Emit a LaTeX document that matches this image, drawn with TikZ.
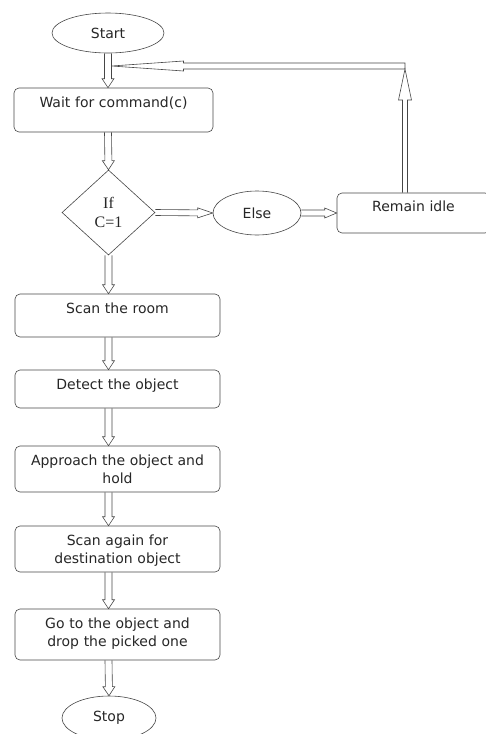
\documentclass[tikz,border=0pt]{standalone}
\usepackage{fontspec}
\setmainfont{DejaVu Sans}
\newfontfamily\condfont{Liberation Serif}
\usetikzlibrary{shapes.geometric,calc}

\definecolor{linegray}{RGB}{70,70,70}

\tikzset{
  every node/.style={font=\fontsize{14}{17.5}\selectfont, text=black!85},
  box/.style={draw=linegray, line width=0.6pt, rounded corners=5pt,
    minimum width=205pt, inner sep=0pt},
  term/.style={draw=linegray, line width=0.6pt, ellipse, inner sep=0pt},
  txt/.style={anchor=base, yshift=-20pt, text width=190pt, align=center, inner sep=0pt},
  % hollow block arrow between two points
  blk head/.store in=\blkhead, blk head=9pt,
  blk half/.store in=\blkhalf, blk half=3.5pt,
  blk wide/.store in=\blkwide, blk wide=6pt,
  blk/.style={draw=linegray, line width=0.6pt, line join=miter, to path={
    let \p1=(\tikztostart), \p2=(\tikztotarget),
        \n1={atan2(\y2-\y1,\x2-\x1)} in
    ($(\p1)+(\n1+90:\blkhalf)$)
    -- ($(\p2)+(\n1+180:\blkhead)+(\n1+90:\blkhalf)$)
    -- ($(\p2)+(\n1+180:\blkhead)+(\n1+90:\blkwide)$)
    -- (\p2)
    -- ($(\p2)+(\n1+180:\blkhead)+(\n1-90:\blkwide)$)
    -- ($(\p2)+(\n1+180:\blkhead)+(\n1-90:\blkhalf)$)
    -- ($(\p1)+(\n1-90:\blkhalf)$)
  }},
}

\begin{document}
\begin{tikzpicture}[x=1pt,y=-1pt]
    \useasboundingbox (0,0) rectangle (485,734);

    % Main column
    \node[term, minimum width=112pt, minimum height=40pt] (start) at (108,33) {Start};
    \node[box, minimum width=199pt, minimum height=44pt,
      label={[txt]north:Wait for command(c)}] (wait) at (113.5,110) {};
    \node[draw=linegray, line width=0.6pt, diamond, inner sep=0pt,
      minimum width=93pt, minimum height=85pt,
      font=\condfont\fontsize{16}{19}\selectfont, align=center] (cond) at (108.5,212.5) {If\\C=1};
    \node[box, minimum height=43pt,
      label={[txt]north:Scan the room}] (scan) at (117.5,315.5) {};
    \node[box, minimum height=38pt,
      label={[txt]north:Detect the object}] (detect) at (117.5,389) {};
    \node[box, minimum height=46pt,
      label={[txt]north:Approach the object and\\hold}] (approach) at (117.5,469) {};
    \node[box, minimum height=46pt,
      label={[txt]north:Scan again for\\destination object}] (again) at (117.5,549) {};
    \node[box, minimum height=51pt,
      label={[txt]north:Go to the object and\\drop the picked one}] (goto) at (117.5,634.5) {};
    \node[term, minimum width=94pt, minimum height=44pt] (stop) at (109,718) {Stop};

    % Else branch
    \node[term, minimum width=88pt, minimum height=44pt] (els) at (257,213) {Else};
    \node[box, minimum width=153pt, minimum height=40pt,
      label={[txt, yshift=1pt, text width=140pt]north:Remain idle}] (idle) at (413.5,213) {};

    % Loop back points
    \coordinate (turn) at (405,66);
    \coordinate (join) at (111.5,66);

    % Connections
    \draw[blk] (start.south) to (start.south |- wait.north);
    \draw[blk] (start.south |- wait.south) to (cond.north);
    \draw[blk] (cond.south) to (cond.south |- scan.north);
    \draw[blk] (cond.south |- scan.south) to (cond.south |- detect.north);
    \draw[blk] (cond.south |- detect.south) to (cond.south |- approach.north);
    \draw[blk] (cond.south |- approach.south) to (cond.south |- again.north);
    \draw[blk] (cond.south |- again.south) to (cond.south |- goto.north);
    \draw[blk] (cond.south |- goto.south) to (stop.north);
    \draw[blk, blk head=15pt, blk half=3pt, blk wide=5pt] (cond.east) to (els.west);
    \draw[blk, blk head=12pt, blk half=3pt, blk wide=5pt] (els.east) to (els.east -| idle.west);
    \draw[blk, blk head=31pt, blk half=2.5pt, blk wide=6.5pt] (turn |- idle.north) to ([yshift=-3pt]turn);
    \draw[blk, blk head=72pt, blk half=3pt, blk wide=5pt] (turn) to (join) -- cycle;
\end{tikzpicture}
\end{document}
